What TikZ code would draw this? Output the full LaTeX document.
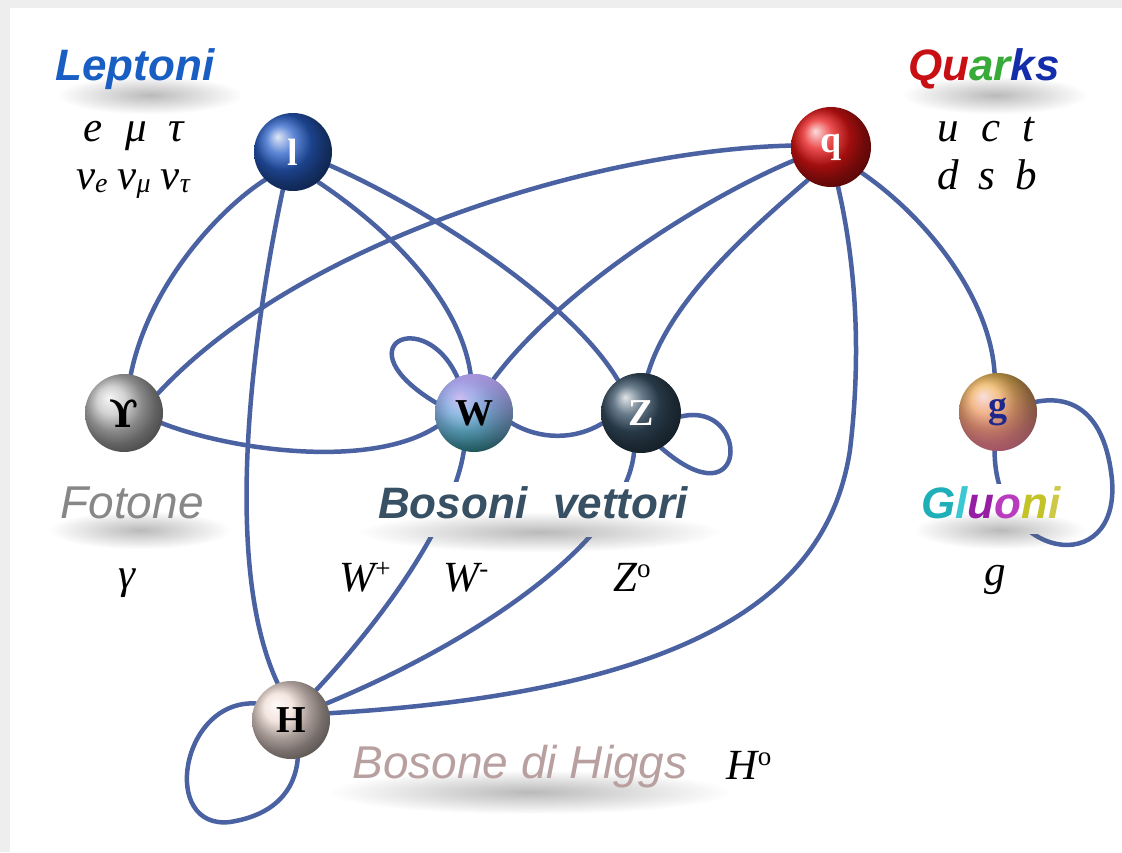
\documentclass[tikz,border=0pt]{standalone}
\usepackage{fontspec}
\setmainfont{Liberation Serif}
\newfontfamily\lblsans{Liberation Sans}
\newfontfamily\dvserif{DejaVu Serif}
\usetikzlibrary{fadings}
\definecolor{edgec}{RGB}{74,98,162}
\definecolor{framec}{RGB}{238,238,238}
\definecolor{lcol}{RGB}{40,95,200}
\definecolor{qcol}{RGB}{230,20,20}
\definecolor{wcol}{RGB}{70,205,215}
\definecolor{wtop}{RGB}{190,150,235}
\definecolor{zcol}{RGB}{55,80,100}
\definecolor{gcol}{RGB}{245,195,90}
\definecolor{gmag}{RGB}{225,90,170}
\definecolor{hcol}{RGB}{240,222,215}
\definecolor{gamcol}{RGB}{195,195,195}
\definecolor{lepc}{RGB}{25,95,195}
\definecolor{qred}{RGB}{200,15,20}
\definecolor{qgreen}{RGB}{55,170,55}
\definecolor{qblue}{RGB}{20,45,170}
\definecolor{fotc}{RGB}{135,135,135}
\definecolor{bosc}{RGB}{55,80,100}
\definecolor{higc}{RGB}{185,160,160}
\definecolor{gla}{RGB}{30,175,185}
\definecolor{glb}{RGB}{60,200,210}
\definecolor{glc}{RGB}{150,30,165}
\definecolor{gld}{RGB}{185,60,190}
\definecolor{gle}{RGB}{195,195,40}
\definecolor{glf}{RGB}{205,200,70}
\definecolor{gblue}{RGB}{30,40,140}
\pgfdeclarelayer{bglayer}
\pgfdeclarelayer{edgelayer}
\pgfdeclarelayer{coverlayer}
\pgfdeclarelayer{shadowlayer}
\pgfsetlayers{bglayer,edgelayer,coverlayer,shadowlayer,main}
\tikzfading[name=topfade, top color=transparent!0, bottom color=transparent!100]
\tikzfading[name=botfade, top color=transparent!100, bottom color=transparent!0]
\tikzfading[name=softblob, inner color=transparent!25, outer color=transparent!100]
\newcommand\fBall{\bfseries\fontsize{38}{38}\selectfont}
\newcommand\fSym{\itshape\fontsize{43}{43}\selectfont}
\newcommand\fCap{\lblsans\bfseries\itshape\fontsize{44}{44}\selectfont}
\newcommand\fCapL{\lblsans\itshape\fontsize{46}{46}\selectfont}
\newcommand\fSub{\itshape\fontsize{28}{28}\selectfont}
\newcommand\fSup{\upshape\fontsize{27}{27}\selectfont}
\begin{document}
\begin{tikzpicture}[x=1pt,y=-1pt,
  ballnode/.style={circle, minimum size=78pt, inner sep=0pt, font=\fBall},
  conn/.style={draw=edgec, line width=4.5pt, line cap=round},
  txt/.style={anchor=base, inner sep=0pt},
  blur/.style={fill=black!60, fill opacity=0.6, path fading=softblob},
]
\useasboundingbox (0,0) rectangle (1122,852);
\begin{pgfonlayer}{bglayer}
  \fill[framec] (0,0) rectangle (1122,852);
  \fill[white] (10,8) rectangle (1122,852);
\end{pgfonlayer}

% balls
\node[ballnode, ball color=lcol, text=white] (l) at (293,152) {l};
\node[ballnode, ball color=qcol, text=white, minimum size=80pt] (q) at (831,147) {q};
\node[ballnode, ball color=gamcol, text=black] (gam) at (124,413) {\dvserif\bfseries ϒ};
\node[ballnode, ball color=wcol, text=black,
  path picture={\fill[wtop, path fading=topfade, fill opacity=0.85] (path picture bounding box.south west) rectangle (path picture bounding box.north east);}] (W) at (474,413) {W};
\node[ballnode, ball color=zcol, text=white, minimum size=80pt] (Z) at (641,413) {Z};
\node[ballnode, ball color=gcol, text=gblue,
  path picture={\fill[gmag, path fading=botfade, fill opacity=0.5] (path picture bounding box.south west) rectangle (path picture bounding box.north east);}] (g) at (998,412) {g};
\node[ballnode, ball color=hcol, text=black] (H) at (291,720) {H};

% connectors
\begin{pgfonlayer}{edgelayer}
\draw[conn] (l.225) .. controls (225,205) and (150,280) .. (gam.80);
\draw[conn] (l.255) .. controls (255,320) and (220,560) .. (H.110);
\draw[conn] (l.-50) .. controls (390,230) and (460,300) .. (W.95);
\draw[conn] (l.-20) .. controls (430,210) and (570,300) .. (Z.125);
\draw[conn] (q.178) .. controls (600,150) and (300,240) .. (gam.30);
\draw[conn] (q.200) .. controls (700,200) and (560,290) .. (W.60);
\draw[conn] (q.235) .. controls (750,230) and (670,300) .. (Z.80);
\draw[conn] (q.-40) .. controls (930,220) and (990,300) .. (g.95);
\draw[conn] (q.-80) .. controls (855,260) and (862,350) .. (850,450) .. controls (830,580) and (720,690) .. (H.10);
\draw[conn] (gam.-15) .. controls (230,450) and (370,470) .. (W.200);
\draw[conn] (W.-15) .. controls (540,440) and (575,440) .. (Z.195);
\draw[conn] (W.115) .. controls (425,305) and (340,345) .. (W.165);
\draw[conn] (Z.-5) .. controls (750,400) and (750,525) .. (Z.-60);
\draw[conn] (W.-105) .. controls (455,510) and (400,600) .. (H.50);
\draw[conn] (Z.-100) .. controls (625,540) and (480,640) .. (H.25);
\draw[conn] (g.-95) .. controls (995,560) and (1120,580) .. (1112,480) .. controls (1105,410) and (1070,395) .. (g.15);
\draw[conn] (H.155) .. controls (180,700) and (160,830) .. (230,822) .. controls (275,815) and (295,790) .. (H.-80);
\end{pgfonlayer}

% white areas under labels
\begin{pgfonlayer}{coverlayer}
\fill[white] (370,482) rectangle (700,537);
\fill[white] (918,484) rectangle (1062,534);
\end{pgfonlayer}

% soft label shadows
\begin{pgfonlayer}{shadowlayer}
\fill[blur] (58,76) rectangle (242,114);
\fill[blur] (903,76) rectangle (1087,114);
\fill[blur] (50,511) rectangle (230,549);
\fill[blur] (360,512) rectangle (720,552);
\fill[blur] (915,511) rectangle (1085,549);
\fill[blur] (330,770) rectangle (730,814);
\end{pgfonlayer}

% labels
\node[txt, text=lepc, font=\fCap] (lep) at (135,80) {Leptoni};
\node[txt, font=\fCap] (qua) at (984,80) {{\color{qred}Qu}{\color{qgreen}ar}{\color{qblue}ks}};
\node[txt, font=\fSym] (lrow1) at (134,141) {e\hspace{22pt}μ\hspace{22pt}τ};
\node[txt, font=\fSym] (lrow2) at (133,189) {ν\raisebox{-3pt}{\fSub e}\hspace{10pt}ν\raisebox{-3pt}{\fSub μ}\hspace{10pt}ν\raisebox{-3pt}{\fSub τ}};
\node[txt, font=\fSym] (qrow1) at (986,141) {u\hspace{22pt}c\hspace{22pt}t};
\node[txt, font=\fSym] (qrow2) at (987,189) {d\hspace{20pt}s\hspace{20pt}b};
\node[txt, text=fotc, font=\fCapL] (fot) at (132,518) {Fotone};
\node[txt, font=\fSym] (gsym) at (127,588) {γ};
\node[txt, text=bosc, font=\fCap] (bos) at (533,518) {Bosoni\hspace{26pt}vettori};
\node[txt, font=\fSym] (wp) at (365,591) {W\raisebox{14pt}{\fSup +}};
\node[txt, font=\fSym] (wm) at (466,591) {W\raisebox{14pt}{\fSup -}};
\node[txt, font=\fSym] (zo) at (632,591) {Z\raisebox{14pt}{\fSup o}};
\node[txt, font=\fCap] (glu) at (991,518) {{\color{gla}G}{\color{glb}l}{\color{glc}u}{\color{gld}o}{\color{gle}n}{\color{glf}i}};
\node[txt, font=\fSym] (gsm) at (995,585) {g};
\node[txt, text=higc, font=\fCapL] (hig) at (520,778) {Bosone di Higgs};
\node[txt, font=\fSym] (ho) at (749,779) {H\raisebox{14pt}{\fSup o}};
\end{tikzpicture}
\end{document}
